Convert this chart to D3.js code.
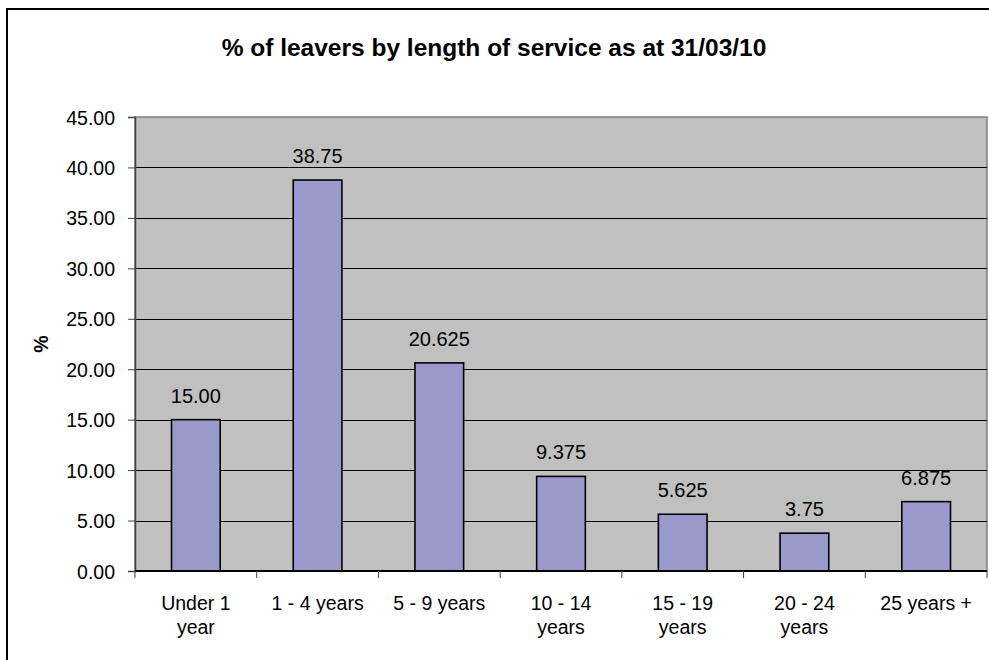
<!DOCTYPE html>
<html>
<head>
<meta charset="utf-8">
<script src="https://cdn.jsdelivr.net/npm/d3@7"></script>
<style>
body { margin: 0; background: #fff; }
svg { font-family: "Liberation Sans", Arial, sans-serif; }
</style>
</head>
<body>
<div id="chart"></div>
<script>
var categories = [["Under 1", "year"], ["1 - 4 years"], ["5 - 9 years"], ["10 - 14", "years"],
	["15 - 19", "years"], ["20 - 24", "years"], ["25 years +"]];
var values = [15, 38.75, 20.625, 9.375, 5.625, 3.75, 6.875];
var valueLabels = ["15.00", "38.75", "20.625", "9.375", "5.625", "3.75", "6.875"];
var yTicks = [0, 5, 10, 15, 20, 25, 30, 35, 40, 45];

var width = 989, height = 660;
var margin = { top: 117, right: 2, bottom: 89, left: 135 };
var plotW = width - margin.left - margin.right;
var plotH = height - margin.top - margin.bottom;

var svg = d3.select("#chart").append("svg")
	.attr("width", width)
	.attr("height", height);

// outer chart border
svg.append("rect")
	.attr("x", 7).attr("y", 9)
	.attr("width", 1000).attr("height", 700)
	.style("fill", "none")
	.style("stroke", "#000")
	.style("stroke-width", 2);

svg.append("text")
	.attr("x", 494)
	.attr("y", 56)
	.attr("text-anchor", "middle")
	.style("font-size", "24.5px")
	.style("font-weight", "bold")
	.text("% of leavers by length of service as at 31/03/10");

var g = svg.append("g")
	.attr("transform", "translate(" + margin.left + "," + margin.top + ")");

var x = d3.scaleBand().domain(d3.range(categories.length)).range([0, plotW]).paddingInner(0.6).paddingOuter(0.3);
var xb = d3.scaleBand().domain(d3.range(categories.length)).range([0, plotW]);
var y = d3.scaleLinear().domain([0, 45]).range([plotH, 0]);

g.append("rect")
	.attr("width", plotW)
	.attr("height", plotH)
	.style("fill", "#c0c0c0")
	.style("stroke", "#808080")
	.style("stroke-width", 1.5);

// gridlines
g.selectAll(".grid")
	.data(yTicks.filter(function (d) { return d > 0 && d < 45; }))
	.enter().append("line")
	.attr("class", "grid")
	.attr("x1", 0).attr("x2", plotW)
	.attr("y1", function (d) { return Math.round(y(d)) + 0.5; })
	.attr("y2", function (d) { return Math.round(y(d)) + 0.5; })
	.style("stroke", "#000")
	.style("stroke-width", 1);

// y axis
var yAxis = g.append("g")
	.call(d3.axisLeft(y).tickValues(yTicks).tickSize(7).tickPadding(13)
		.tickFormat(function (d) { return d3.format(".2f")(d); }));
yAxis.select(".domain").style("stroke", "#404040").style("stroke-width", 1.5);
yAxis.selectAll(".tick line").style("stroke", "#404040");
yAxis.selectAll("text").style("font-size", "19.5px").style("fill", "#000")
	.attr("dy", "0.36em");

// bars
g.selectAll(".bar")
	.data(values)
	.enter().append("rect")
	.attr("class", "bar")
	.attr("x", function (d, i) { return x(i); })
	.attr("y", function (d) { return y(d); })
	.attr("width", x.bandwidth())
	.attr("height", function (d) { return plotH - y(d); })
	.style("fill", "#9999cc")
	.style("stroke", "#000")
	.style("stroke-width", 1.6);

g.selectAll(".vlabel")
	.data(values)
	.enter().append("text")
	.attr("class", "vlabel")
	.attr("x", function (d, i) { return x(i) + x.bandwidth() / 2; })
	.attr("y", function (d) { return y(d) - 17; })
	.attr("text-anchor", "middle")
	.style("font-size", "20px")
	.text(function (d, i) { return valueLabels[i]; });

// x axis
var xAxis = g.append("g").attr("transform", "translate(0," + plotH + ")");
xAxis.append("line")
	.attr("x1", 0).attr("x2", plotW)
	.style("stroke", "#000").style("stroke-width", 2);
xAxis.selectAll(".xtick")
	.data(d3.range(categories.length + 1))
	.enter().append("line")
	.attr("class", "xtick")
	.attr("x1", function (d) { return d < categories.length ? xb(d) : plotW; })
	.attr("x2", function (d) { return d < categories.length ? xb(d) : plotW; })
	.attr("y1", 0).attr("y2", 7)
	.style("stroke", "#404040");

var xl = xAxis.selectAll(".xlabel")
	.data(categories)
	.enter().append("text")
	.attr("class", "xlabel")
	.attr("text-anchor", "middle")
	.attr("transform", function (d, i) { return "translate(" + (xb(i) + xb.bandwidth() / 2) + ",39)"; })
	.style("font-size", "19.5px");
xl.selectAll("tspan")
	.data(function (d) { return d; })
	.enter().append("tspan")
	.attr("x", 0)
	.attr("y", function (d, i) { return i * 24; })
	.text(function (d) { return d; });

svg.append("text")
	.attr("transform", "translate(48," + (margin.top + plotH / 2) + ")rotate(-90)")
	.attr("text-anchor", "middle")
	.style("font-size", "19.5px")
	.style("font-weight", "bold")
	.text("%");
</script>
</body>
</html>
